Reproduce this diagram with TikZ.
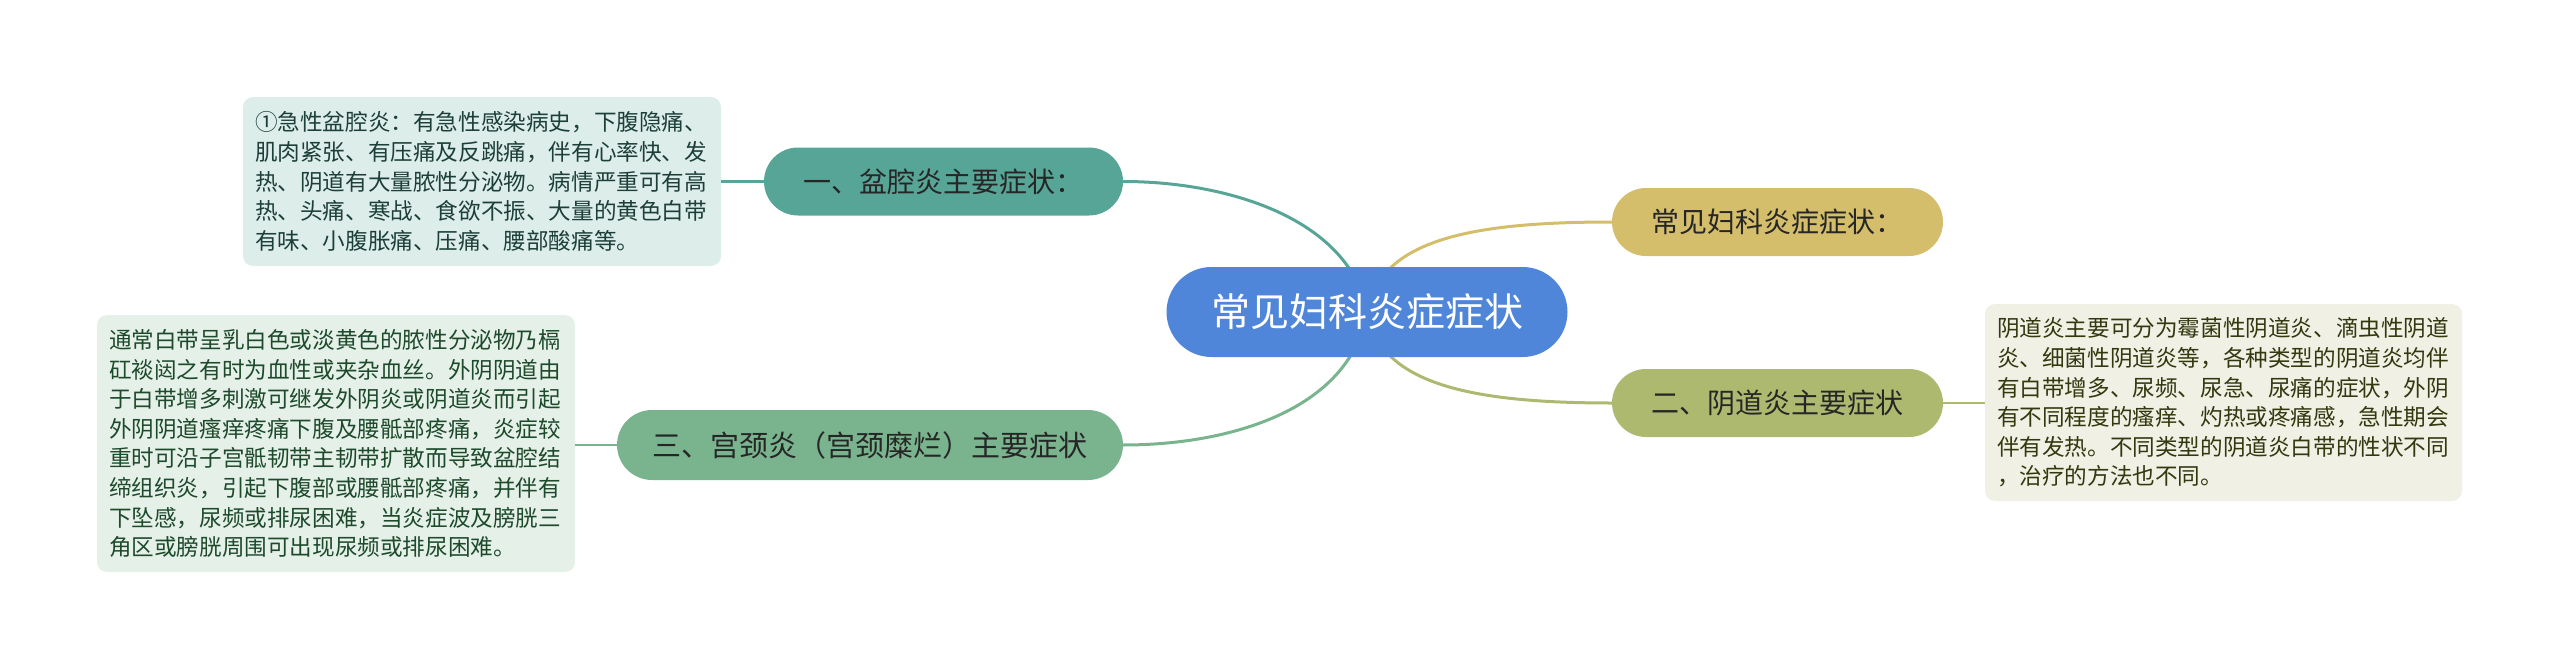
\documentclass[tikz,border=0pt]{standalone}
\usepackage{fontspec}
\setmainfont{Noto Sans CJK SC}
\definecolor{cblue}{HTML}{4F86DA}
\definecolor{cteal}{HTML}{57A597}
\definecolor{cgold}{HTML}{D4BD6B}
\definecolor{colive}{HTML}{AEB970}
\definecolor{cgreen}{HTML}{7AB48E}
\definecolor{bteal}{HTML}{DDEDEA}
\definecolor{bgreen}{HTML}{E5F0E8}
\definecolor{bolive}{HTML}{F0F0E4}
\definecolor{tteal}{HTML}{1D3F39}
\definecolor{tgreen}{HTML}{1E4A2C}
\definecolor{tolive}{HTML}{33380F}
\begin{document}
\begin{tikzpicture}[x=1pt,y=-1pt,
  pill/.style={rectangle,rounded corners=34pt,minimum height=68pt,inner sep=0pt,
    font=\fontsize{28}{34}\selectfont,text=black!85},
  infobox/.style={rectangle,rounded corners=10pt,inner xsep=12pt,inner ysep=0pt,
    align=left,font=\fontsize{22.6}{29.6}\selectfont},
  mainline/.style={line width=3pt},
  subline/.style={line width=2.2pt}]
\useasboundingbox (0,0) rectangle (2560,669);
\coordinate (c) at (1367,312);
\node[pill,fill=cteal,minimum width=359pt] (n1) at (943.5,181.5) {一、盆腔炎主要症状：};
\node[pill,fill=cgold,minimum width=331pt] (n0) at (1777.5,222) {常见妇科炎症症状：};
\node[pill,fill=colive,minimum width=331pt] (n2) at (1777.5,403) {二、阴道炎主要症状};
\node[pill,fill=cgreen,minimum width=506pt,minimum height=70pt,rounded corners=35pt,
  font=\fontsize{29}{35}\selectfont] (n3) at (870,445) {三、宫颈炎（宫颈糜烂）主要症状};
\draw[mainline,cteal] (c) .. controls (1350,220) and (1230,181.5) .. (n1.east);
\draw[mainline,cgold] (c) .. controls (1380,240) and (1470,222) .. (n0.west);
\draw[mainline,colive] (c) .. controls (1380,384) and (1470,403) .. (n2.west);
\draw[mainline,cgreen] (c) .. controls (1350,410) and (1230,445) .. (n3.east);
\node[rectangle,rounded corners=45pt,fill=cblue,minimum width=401pt,minimum height=90pt,
  inner sep=0pt,text=white,font=\fontsize{39}{46}\selectfont] (root) at (c) {常见妇科炎症症状};
\node[infobox,fill=bteal,text=tteal,text width=454pt,minimum height=169pt] (b1) at (482,181.5)
{①急性盆腔炎：有急性感染病史，下腹隐痛、\\肌肉紧张、有压痛及反跳痛，伴有心率快、发\\热、阴道有大量脓性分泌物。病情严重可有高\\热、头痛、寒战、食欲不振、大量的黄色白带\\有味、小腹胀痛、压痛、腰部酸痛等。};
\node[infobox,fill=bgreen,text=tgreen,text width=454pt,minimum height=257pt] (b3) at (336,443.5)
{通常白带呈乳白色或淡黄色的脓性分泌物乃槅\\矼裧闼之有时为血性或夹杂血丝。外阴阴道由\\于白带增多刺激可继发外阴炎或阴道炎而引起\\外阴阴道瘙痒疼痛下腹及腰骶部疼痛，炎症较\\重时可沿子宫骶韧带主韧带扩散而导致盆腔结\\缔组织炎，引起下腹部或腰骶部疼痛，并伴有\\下坠感，尿频或排尿困难，当炎症波及膀胱三\\角区或膀胱周围可出现尿频或排尿困难。};
\node[infobox,fill=bolive,text=tolive,text width=453pt,minimum height=197pt] (b2) at (2223.5,402.5)
{阴道炎主要可分为霉菌性阴道炎、滴虫性阴道\\炎、细菌性阴道炎等，各种类型的阴道炎均伴\\有白带增多、尿频、尿急、尿痛的症状，外阴\\有不同程度的瘙痒、灼热或疼痛感，急性期会\\伴有发热。不同类型的阴道炎白带的性状不同\\，治疗的方法也不同。};
\draw[subline,cteal] (n1.west) -- (n1.west -| b1.east);
\draw[subline,cgreen] (n3.west) -- (n3.west -| b3.east);
\draw[subline,colive] (n2.east) -- (n2.east -| b2.west);
\end{tikzpicture}
\end{document}
